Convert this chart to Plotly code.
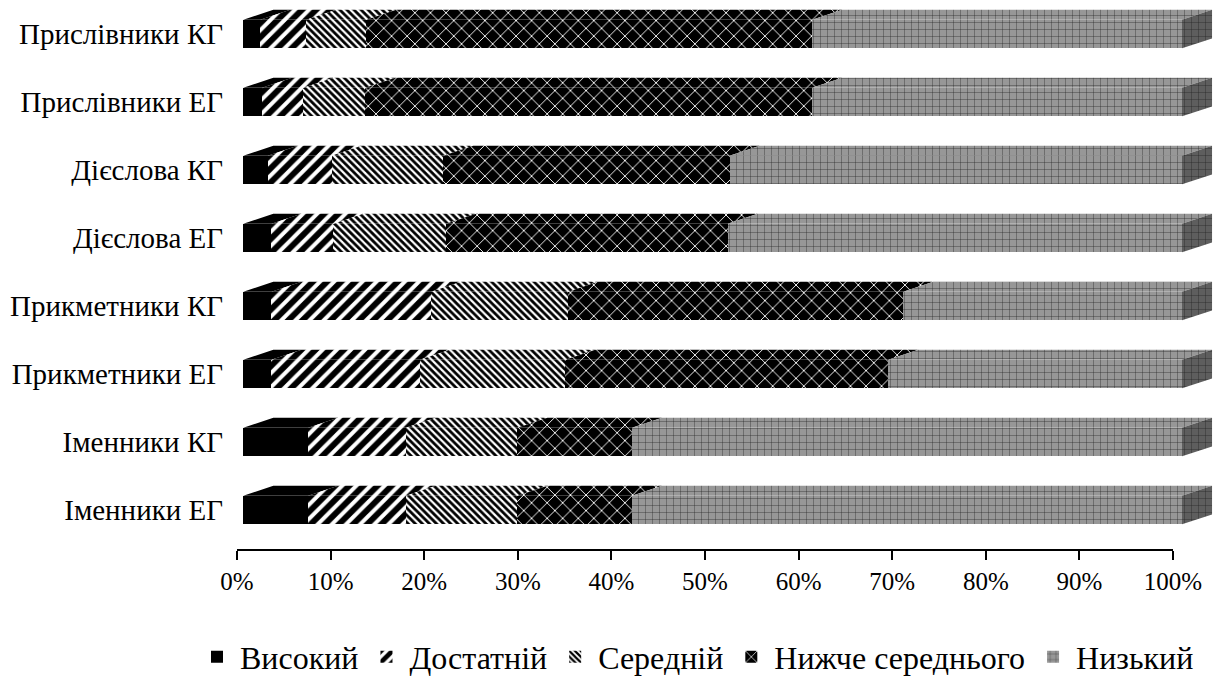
import plotly.graph_objects as go

# Categories (bottom to top) and achievement levels
categories = ["Іменники ЕГ", "Іменники КГ", "Прикметники ЕГ", "Прикметники КГ",
              "Дієслова ЕГ", "Дієслова КГ", "Прислівники ЕГ", "Прислівники КГ"]
levels = ["Високий", "Достатній", "Середній", "Нижче середнього", "Низький"]

# Share of each level, %
high = [6.9, 6.9, 3.0, 3.0, 3.0, 2.6, 2.0, 1.8]
sufficient = [10.4, 10.4, 15.8, 17.0, 6.6, 6.8, 4.4, 4.9]
medium = [11.9, 11.9, 15.5, 14.6, 12.0, 11.9, 6.6, 6.4]
below_medium = [12.2, 12.2, 34.4, 35.7, 30.0, 30.5, 47.6, 47.5]
low = [58.6, 58.6, 31.3, 29.7, 48.4, 48.2, 39.4, 39.4]

tick_values = [0, 10, 20, 30, 40, 50, 60, 70, 80, 90, 100]
tick_labels = ["0%", "10%", "20%", "30%", "40%", "50%", "60%", "70%", "80%", "90%", "100%"]

series = [high, sufficient, medium, below_medium, low]

# Fill styles for each level (front face / top face)
styles = [
    dict(color="#000000", pattern=dict(shape="")),
    dict(color="#ffffff", pattern=dict(shape="/", fgcolor="#000000", bgcolor="#ffffff",
                                       size=10, solidity=0.6, fgopacity=1)),
    dict(color="#ffffff", pattern=dict(shape="\\", fgcolor="#000000", bgcolor="#ffffff",
                                       size=5, solidity=0.55, fgopacity=1)),
    dict(color="#000000", pattern=dict(shape="x", fgcolor="#ffffff", bgcolor="#000000",
                                       size=11, solidity=0.16, fgopacity=1)),
    dict(color="#979797", pattern=dict(shape="+", fgcolor="#1e1e1e", bgcolor="#979797",
                                       size=7, solidity=0.1, fgopacity=1)),
]
side_style = dict(color="#5e5e5e", pattern=dict(shape="+", fgcolor="#1e1e1e", bgcolor="#5e5e5e",
                                               size=7, solidity=0.1, fgopacity=1))

FONT = "Liberation Serif"
BAR_W = 0.42      # bar thickness, category units
DEPTH_X = 3.2     # 3-D depth, x units
DEPTH_Y = 0.145   # 3-D depth, category units

ypos = list(range(len(categories)))
fig = go.Figure()

cum = [0.0] * len(categories)
for name, vals, st in zip(levels, series, styles):
    pat = st["pattern"]
    # front faces
    fig.add_trace(go.Bar(
        y=ypos, x=vals, orientation="h", name=name, width=BAR_W,
        marker=dict(color=st["color"], pattern=pat, line=dict(width=0)),
        hoverinfo="skip",
    ))
    # top faces (parallelograms behind the front face)
    px, py = [], []
    for i, v in enumerate(vals):
        x0, x1 = cum[i], cum[i] + v
        yt = ypos[i] + BAR_W / 2
        px += [x0, x1, x1 + DEPTH_X, x0 + DEPTH_X, x0, None]
        py += [yt, yt, yt + DEPTH_Y, yt + DEPTH_Y, yt, None]
        cum[i] = x1
    top = dict(x=px, y=py, mode="lines", fill="toself", fillcolor=st["color"],
               line=dict(width=0, color=st["color"]), showlegend=False, hoverinfo="skip")
    if pat.get("shape"):
        top["fillpattern"] = pat
    fig.add_trace(go.Scatter(**top))

# right-hand end faces
sx, sy = [], []
for i, total in enumerate(cum):
    yb, yt = ypos[i] - BAR_W / 2, ypos[i] + BAR_W / 2
    sx += [total, total, total + DEPTH_X, total + DEPTH_X, total, None]
    sy += [yb, yt, yt + DEPTH_Y, yb + DEPTH_Y, yb, None]
fig.add_trace(go.Scatter(x=sx, y=sy, mode="lines", fill="toself",
                         fillcolor=side_style["color"], fillpattern=side_style["pattern"],
                         line=dict(width=0, color=side_style["color"]),
                         showlegend=False, hoverinfo="skip"))

# percentage scale axis
fig.add_trace(go.Scatter(x=[None], y=[None], xaxis="x2", yaxis="y",
                         showlegend=False, hoverinfo="skip"))

W, H = 1221, 679
L, R, T, B = 236, 5, 5, 130
plot_w = W - L - R
plot_h = H - T - B
x_scale = 9.387  # px per percent on the bar faces
x_lo = -(243.3 - L) / x_scale
x_hi = x_lo + plot_w / x_scale

fig.update_layout(
    width=W, height=H, autosize=False,
    margin=dict(l=L, r=R, t=T, b=B, autoexpand=False),
    paper_bgcolor="white", plot_bgcolor="rgba(0,0,0,0)",
    barmode="stack",
    font=dict(family=FONT, color="#000000"),
    xaxis=dict(range=[x_lo, x_hi], showticklabels=False, showgrid=False,
               zeroline=False, showline=False, ticks="", automargin=False),
    xaxis2=dict(range=[0, 100], domain=[(237 - L) / plot_w, (1173 - L) / plot_w],
                anchor="y", tickvals=tick_values, ticktext=tick_labels,
                showline=True, linecolor="#000000", linewidth=1.5,
                ticks="outside", ticklen=9, tickwidth=1.5, tickcolor="#000000",
                showgrid=False, zeroline=False, automargin=False,
                tickfont=dict(family=FONT, size=25, color="#000000")),
    yaxis=dict(range=[-0.574, 7.426], tickvals=ypos, ticktext=categories,
               showgrid=False, zeroline=False, showline=False, ticks="",
               ticklabelstandoff=12, automargin=False,
               tickfont=dict(family=FONT, size=29, color="#000000")),
    legend=dict(orientation="h", x=(194 - L) / plot_w, xanchor="left",
                y=(H - B - 657) / plot_h, yanchor="middle", itemwidth=36,
                font=dict(family=FONT, size=32, color="#000000"),
                traceorder="normal", itemclick=False),
    showlegend=True,
)

fig.write_html("out.html")
